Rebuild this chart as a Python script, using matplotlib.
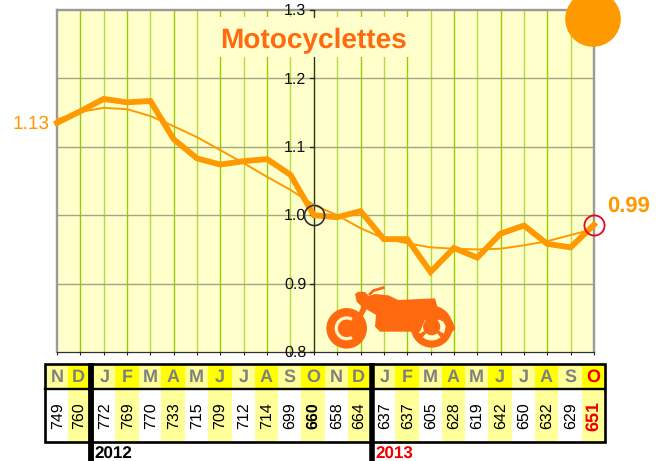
import matplotlib
matplotlib.use("Agg")
import matplotlib.pyplot as plt
from matplotlib.patches import Rectangle, Circle, Polygon, Wedge

plt.rcParams['font.family'] = ['Liberation Sans', 'DejaVu Sans']
plt.rcParams['text.hinting'] = 'no_hinting'
plt.rcParams['text.hinting_factor'] = 1

months = ["N","D","J","F","M","A","M","J","J","A","S","O","N","D","J","F","M","A","M","J","J","A","S","O"]
counts = [749,760,772,769,770,733,715,709,712,714,699,660,658,664,637,637,605,628,619,642,650,632,629,651]
index_values = [1.135,1.152,1.170,1.165,1.167,1.111,1.083,1.074,1.079,1.082,1.059,1.000,
                0.997,1.006,0.965,0.965,0.917,0.952,0.938,0.973,0.985,0.958,0.953,0.986]
trend_values = [1.140,1.151,1.157,1.155,1.145,1.130,1.114,1.095,1.076,1.056,1.037,1.015,
                1.000,0.981,0.966,0.959,0.953,0.951,0.950,0.951,0.956,0.962,0.971,0.980]
years = ["2012","2013"]
title = "Motocyclettes"
first_label = "1.13"
last_label = "0.99"

W, H = 659, 461
ORANGE = "#FF9900"
DEEP = "#FF6A10"
PALE = "#FFFFCC"
fig = plt.figure(figsize=(W/100, H/100), dpi=100, facecolor="white")

L, R, T, B = 57, 594, 10, 352
ax = fig.add_axes([L/W, 1-B/H, (R-L)/W, (B-T)/H], facecolor=PALE)
xs = list(range(len(months)))
ax.set_xlim(0, len(months)-1)
ax.set_ylim(0.8, 1.3)

for i in xs[1:-1]:
    ax.axvline(i, color="#99CC00" if i % 2 else "#B4DC3C", lw=1.0, zorder=1)
for v in [0.9, 1.0, 1.1, 1.2]:
    ax.axhline(v, color="#A6A67C", lw=1.0, zorder=1.2)

for s in ["left", "top", "right"]:
    ax.spines[s].set_color("#9A9A9A")
    ax.spines[s].set_linewidth(1.7)
ax.spines["bottom"].set_color("#303030")
ax.spines["bottom"].set_linewidth(0.9)

ax.set_xticks(xs)
ax.set_xticklabels([])
ax.tick_params(axis="x", length=2.5, width=0.8, color="#202020")
ax.set_yticks([])

ov = fig.add_axes([0, 0, 1, 1], facecolor="none")
ov.set_xlim(0, W)
ov.set_ylim(H, 0)
ov.axis("off")

ov.add_patch(Rectangle((216, 17.5), 195, 39.5, fc=PALE, ec="none", zorder=1))
ov.text(314, 41, title, color=DEEP, fontsize=20.2, fontweight="bold", ha="center", va="center", zorder=2)

AX_X = L + 11*(R-L)/23
ov.plot([AX_X, AX_X], [17.5, 10], color="#303030", lw=0.9, zorder=2)
ov.plot([AX_X, AX_X], [57, B], color="#303030", lw=0.9, zorder=2)

# motorcycle silhouette (decoration, pixel coordinates from the picture)
def mz(pts):
    return [(320+x/3, 280+y/3) for x, y in pts]
fc_x, fc_y = 320+80/3, 280+145/3
rc_x, rc_y = 320+335/3, 280+140/3
ov.add_patch(Circle((fc_x, fc_y), 20.3, fc=DEEP, ec="none", zorder=3))
ov.add_patch(Wedge((fc_x, fc_y), 12, 60, 300, width=3.2, fc="#FFF6C8", ec="none", zorder=3))
ov.add_patch(Circle((rc_x, rc_y), 21, fc=DEEP, ec="none", zorder=3))
for a, b in [(50, 130), (150, 225), (-45, 30)]:
    ov.add_patch(Wedge((rc_x, rc_y), 13.8, a, b, width=5.2, fc=PALE, ec="none", zorder=3))
body = mz([(105,42),(115,35),(135,36),(147,48),(165,42),(205,46),(235,60),(345,55),(352,80),
           (375,95),(398,125),(406,145),(398,155),(385,150),(370,125),(335,108),(318,112),(300,155),
           (180,155),(165,140),(168,105),(140,88),(115,135),(100,130),(125,80),(110,65)])
ov.add_patch(Polygon(body, closed=True, fc=DEEP, ec="none", zorder=3.5))
ov.plot(*zip(*mz([(150,42),(160,32),(190,23)])), color=DEEP, lw=2.0, zorder=3.5)

for v in [0.8, 0.9, 1.0, 1.1, 1.2, 1.3]:
    py = B - (v-0.8)/0.5*(B-T)
    ov.plot([AX_X-4, AX_X], [py, py], color="#202020", lw=0.9, zorder=4)
    ov.text(AX_X-7.5, py+1, f"{v:.1f}", fontsize=11.2, color="#101010", ha="right", va="center", zorder=4)

top = fig.add_axes(ax.get_position(), facecolor="none")
top.set_xlim(ax.get_xlim())
top.set_ylim(ax.get_ylim())
top.axis("off")
top.plot(xs, trend_values, color=ORANGE, lw=1.4, zorder=5, clip_on=False)
top.plot(xs, index_values, color=ORANGE, lw=4.2, zorder=6, solid_joinstyle="miter", clip_on=False)
top.plot([11], [index_values[11]], "o", ms=14.5, mfc="none", mec="#303030", mew=1.2, zorder=7, clip_on=False)
top.plot([23], [index_values[23]], "o", ms=14.5, mfc="none", mec="#EE0022", mew=1.3, zorder=7, clip_on=False)

ov2 = fig.add_axes([0, 0, 1, 1], facecolor="none")
ov2.set_xlim(0, W)
ov2.set_ylim(H, 0)
ov2.axis("off")
ov2.add_patch(Circle((593, 19), 27.8, fc=ORANGE, ec="none", zorder=8))
ov2.text(49.5, 123.5, first_label, color=ORANGE, fontsize=13.6, ha="right", va="center")
ov2.text(607, 206, last_label, color=ORANGE, fontsize=15.5, fontweight="bold", ha="left", va="center")

left_edges = [46,68, 94,115,139,161,185,208,231.5,255,278,301,325,348, 374,395,419,442,465,488,512,535,558,582]
right_edges = [68,89, 115,139,161,185,208,231.5,255,278,301,325,348,369, 395,419,442,465,488,512,535,558,582,604]
TOP, MID, BOT = 364, 389, 442
for i, (x0, x1) in enumerate(zip(left_edges, right_edges)):
    odd = i % 2 == 1
    ov2.add_patch(Rectangle((x0, TOP), x1-x0, MID-TOP, fc="#FFFF00" if odd else "#FFFF99", ec="none", zorder=1))
    ov2.add_patch(Rectangle((x0, MID), x1-x0, BOT-MID, fc="#FFFF99" if odd else "white", ec="none", zorder=1))
    cx = (x0+x1)/2
    last = i == len(months)-1
    ref = i == 11
    ov2.text(cx, 377, months[i], fontsize=13, fontweight="bold", color="#EE0000" if last else "#808080",
             ha="center", va="center", zorder=3)
    ov2.text(cx+0.5, 416, str(counts[i]), fontsize=12.9 if last else 11.3, rotation=90,
             fontweight="bold" if (last or ref) else "normal",
             color="#EE0000" if last else "black", ha="center", va="center", zorder=3)

ov2.add_patch(Rectangle((45.2, 364), 559.6, 78, fc="none", ec="black", lw=1.9, zorder=4))
ov2.plot([45, 605], [389, 389], color="black", lw=1.7, zorder=4)
ov2.plot([91.2, 91.2], [363, 461], color="black", lw=4.2, solid_capstyle="butt", zorder=4)
ov2.plot([371.5, 371.5], [363, 461], color="black", lw=4, solid_capstyle="butt", zorder=4)
ov2.text(94.5, 458.8, years[0], fontsize=12.2, fontweight="bold", color="black", ha="left", va="baseline", zorder=4)
ov2.text(375, 458.8, years[1], fontsize=12.2, fontweight="bold", color="#EE0000", ha="left", va="baseline", zorder=4)

fig.savefig("out.png", dpi=100)
